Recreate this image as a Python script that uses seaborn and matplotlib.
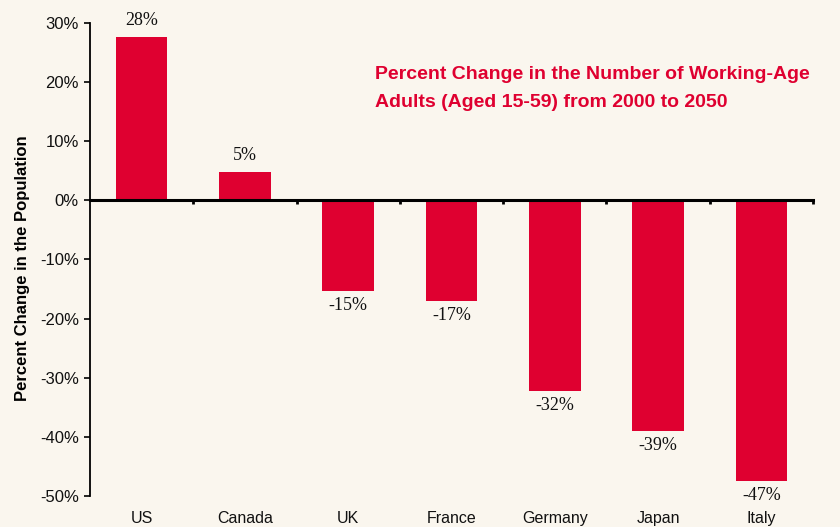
import matplotlib
matplotlib.use("Agg")
import matplotlib.pyplot as plt
import matplotlib.transforms as mtransforms
from matplotlib.ticker import FuncFormatter, FixedLocator
import seaborn as sns
import pandas as pd

countries = ["US", "Canada", "UK", "France", "Germany", "Japan", "Italy"]
changes = [27.7, 4.8, -15.4, -17.0, -32.3, -39.0, -47.4]
value_labels = ["28%", "5%", "-15%", "-17%", "-32%", "-39%", "-47%"]
y_ticks = [30, 20, 10, 0, -10, -20, -30, -40, -50]
title_text = "Percent Change in the Number of Working-Age\nAdults (Aged 15-59) from 2000 to 2050"
y_label = "Percent Change in the Population"

bg = "#FAF6EE"
bar_color = "#DF0030"

sns.set_theme(style="white")
plt.rcParams["font.family"] = ["Liberation Sans", "DejaVu Sans"]

df = pd.DataFrame({"country": countries, "change": changes})

fig = plt.figure(figsize=(8.4, 5.27), dpi=100, facecolor=bg)
ax = fig.add_axes([90 / 840, 1 - 496 / 527, 723 / 840, (496 - 23) / 527])
ax.set_facecolor(bg)

sns.barplot(data=df, x="country", y="change", color=bar_color, width=0.5,
            saturation=1, ax=ax, edgecolor="none")

ax.set_ylim(-50, 30)
ax.set_xlim(-0.5, len(countries) - 0.5)
ax.yaxis.set_major_locator(FixedLocator(y_ticks))
ax.yaxis.set_major_formatter(FuncFormatter(lambda v, p: f"{v:.0f}%"))
ax.tick_params(axis="y", direction="out", length=4, width=1.2, color="black",
               labelsize=12, pad=4, left=True, labelcolor="#111111")

for s in ["top", "right"]:
    ax.spines[s].set_visible(False)
ax.spines["left"].set_color("black")
ax.spines["left"].set_linewidth(1.3)
ax.spines["bottom"].set_position(("data", 0))
ax.spines["bottom"].set_color("black")
ax.spines["bottom"].set_linewidth(2.2)

bounds = [i + 0.5 for i in range(len(countries))]
ax.xaxis.set_major_locator(FixedLocator(bounds))
ax.tick_params(axis="x", direction="out", length=3, width=2, color="black",
               bottom=True, labelbottom=False)
ax.set_xlabel("")
ax.set_ylabel(y_label, fontsize=12, fontweight="bold", color="black")
ax.yaxis.set_label_coords(-0.083, 0.482)

trans = mtransforms.blended_transform_factory(ax.transData, ax.transAxes)
for i, name in enumerate(countries):
    ax.text(i, -0.031, name, transform=trans, ha="center", va="top",
            fontsize=11.5, color="#111111")

for i, (v, lab) in enumerate(zip(changes, value_labels)):
    if v >= 0:
        ax.text(i, v + 1.3, lab, ha="center", va="bottom", fontsize=13,
                family=["Liberation Serif", "DejaVu Serif"], color="#111111")
    else:
        ax.text(i, v - 1.0, lab, ha="center", va="top", fontsize=13,
                family=["Liberation Serif", "DejaVu Serif"], color="#111111")

fig.text(375 / 840, 1 - 66 / 527, title_text, ha="left", va="top",
         fontsize=14.0, fontweight="bold", color="#DF0030", linespacing=1.85)

fig.savefig("out.png", dpi=100, facecolor=bg)
